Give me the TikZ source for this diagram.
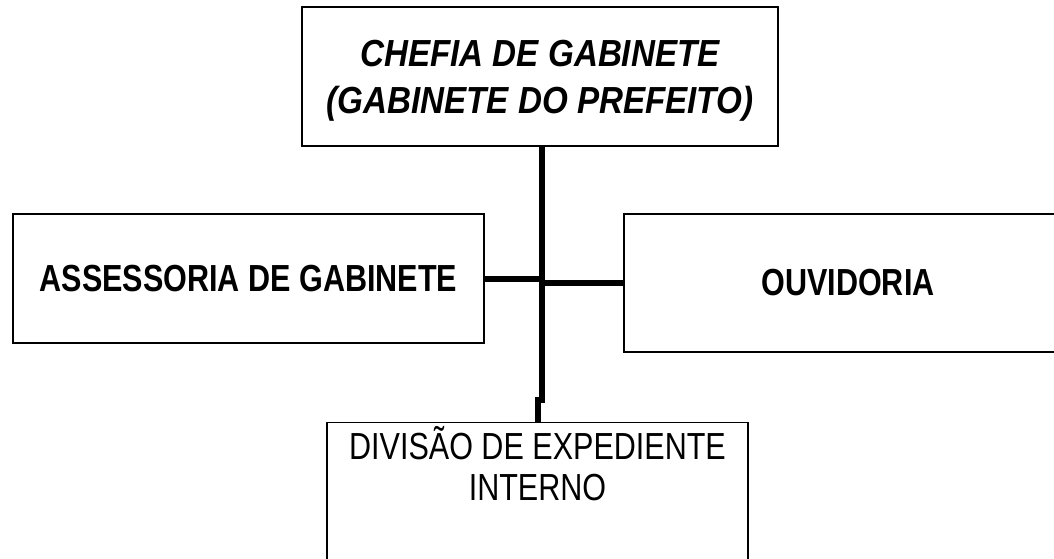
\documentclass[tikz,border=0pt]{standalone}
\usepackage{fontspec}
\setmainfont{Liberation Sans}[FakeStretch=0.81]
\newfontfamily\chefiafont{Liberation Sans}[FakeStretch=0.88]
\usetikzlibrary{positioning}

\begin{document}
\begin{tikzpicture}[x=1pt, y=-1pt,
    caixa/.style={draw, line width=1.3pt, inner sep=0pt, align=center},
    ligacao/.style={line width=6pt}]
    \useasboundingbox (0,0) rectangle (1054,559);
    \node[caixa, minimum width=476, minimum height=139] (chefia) at (540,76.5) {};
    \node[align=center, font=\chefiafont\fontsize{37.7}{47}\selectfont\bfseries\itshape] at (540,81) {CHEFIA DE GABINETE\\(GABINETE DO PREFEITO)};
    \node[caixa, minimum width=471, minimum height=129, font=\fontsize{37.7}{45}\selectfont\bfseries] (assessoria) at (248.5,278.5) {ASSESSORIA DE GABINETE};
    \node[caixa, minimum width=448, minimum height=138, font=\fontsize{37.7}{45}\selectfont\bfseries] (ouvidoria) at (848,283) {OUVIDORIA};
    \node[caixa, minimum width=421, minimum height=150, anchor=north] (divisao) at (537.5,422) {};
    \node[below=1pt of divisao.north, align=center, font=\fontsize{37.7}{41}\selectfont] {DIVIS\~AO DE EXPEDIENTE\\INTERNO};
    % tronco com dobra
    \coordinate (dobra) at (542,400);
    \draw[ligacao] (chefia.south -| dobra) -- (dobra) -| ([xshift=-4pt]dobra |- divisao.north);
    \draw[ligacao] (assessoria.east) -- (assessoria.east -| dobra);
    \draw[ligacao] (ouvidoria.west) -- (ouvidoria.west -| dobra);
\end{tikzpicture}
\end{document}
